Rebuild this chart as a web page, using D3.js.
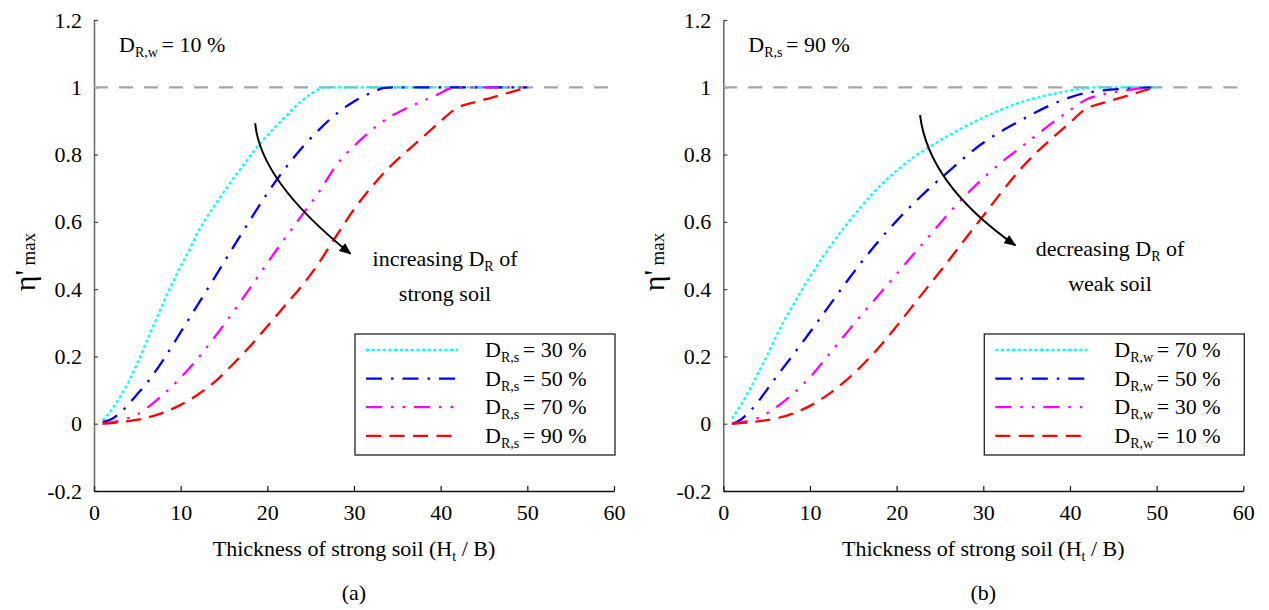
<!DOCTYPE html>
<html>
<head>
<meta charset="utf-8">
<script src="https://cdn.jsdelivr.net/npm/d3@7/dist/d3.min.js"></script>
<style>
  html, body { margin: 0; padding: 0; background: #fff; }
  svg { display: block; }
</style>
</head>
<body>
<svg id="chart" width="1269" height="610"></svg>
<script>
// ---------- data: normalised peak ratio vs. thickness of strong soil ----------
// axis ticks
const xTicks = [0, 10, 20, 30, 40, 50, 60];
const yTicks = [-0.2, 0, 0.2, 0.4, 0.6, 0.8, 1, 1.2];

// (a) weak soil D_R,w = 10 %, varying D_R of strong soil
const legendA = ["30 %", "50 %", "70 %", "90 %"];
const hA30 = [1, 2, 3, 4, 5, 6, 7, 8, 9, 10, 11, 12, 13, 14, 15, 16, 17, 18, 19, 20, 21, 22, 23, 24, 25, 26, 26.6, 30, 35, 40, 45, 50];
const eA30 = [0.01, 0.04, 0.08, 0.125, 0.18, 0.24, 0.3, 0.36, 0.415, 0.468, 0.516, 0.57, 0.613, 0.652, 0.69, 0.726, 0.76, 0.795, 0.828, 0.857, 0.884, 0.91, 0.937, 0.96, 0.98, 0.995, 1, 1, 1, 1, 1, 1];
const hA50 = [1, 2, 3, 4, 5, 6, 8, 10, 12, 14, 16, 18, 20, 22, 24, 26, 28, 30, 32, 33.5, 34.5, 40, 45, 50];
const eA50 = [0.005, 0.013, 0.032, 0.058, 0.088, 0.118, 0.19, 0.272, 0.355, 0.438, 0.522, 0.605, 0.685, 0.757, 0.82, 0.875, 0.922, 0.958, 0.984, 0.998, 1, 1, 1, 1];
const hA70 = [1, 2, 3, 4, 5, 6, 7, 8, 10, 12, 14, 16, 18, 20, 22, 24, 26, 28, 29, 30, 32, 34, 36, 38, 40, 41, 42, 45, 50];
const eA70 = [0, 0.004, 0.01, 0.017, 0.028, 0.045, 0.065, 0.087, 0.137, 0.195, 0.26, 0.33, 0.403, 0.478, 0.55, 0.62, 0.69, 0.77, 0.8, 0.825, 0.872, 0.91, 0.937, 0.96, 0.983, 0.996, 1, 1, 1];
const hA90 = [1, 2, 4, 6, 8, 10, 12, 14, 16, 18, 20, 22, 24, 26, 28, 30, 32, 34, 36, 38, 40, 42, 44, 46, 48, 50];
const eA90 = [0, 0.002, 0.008, 0.017, 0.033, 0.056, 0.087, 0.126, 0.176, 0.23, 0.29, 0.35, 0.41, 0.48, 0.56, 0.637, 0.703, 0.76, 0.808, 0.853, 0.9, 0.94, 0.956, 0.97, 0.985, 1];

// (b) strong soil D_R,s = 90 %, varying D_R of weak soil
const legendB = ["70 %", "50 %", "30 %", "10 %"];
const hB70 = [1, 2, 3, 4, 5, 6, 7, 8, 9, 10, 12, 14, 16, 18, 20, 22, 24, 26, 28, 30, 32, 34, 36, 38, 40, 42, 43, 45, 50];
const eB70 = [0.015, 0.055, 0.1, 0.15, 0.2, 0.255, 0.305, 0.35, 0.395, 0.437, 0.515, 0.585, 0.648, 0.705, 0.752, 0.793, 0.826, 0.857, 0.885, 0.91, 0.933, 0.953, 0.968, 0.98, 0.99, 0.998, 1, 1, 1];
const hB50 = [1, 2, 3, 4, 5, 6, 8, 10, 12, 14, 16, 18, 20, 22, 24, 26, 28, 30, 32, 34, 36, 38, 40, 42, 44, 46, 48, 49.3];
const eB50 = [0, 0.012, 0.035, 0.065, 0.1, 0.135, 0.203, 0.272, 0.343, 0.414, 0.482, 0.545, 0.603, 0.656, 0.705, 0.75, 0.795, 0.835, 0.868, 0.897, 0.925, 0.95, 0.97, 0.984, 0.991, 0.995, 0.998, 1];
const hB30 = [1, 2, 4, 6, 8, 10, 12, 14, 16, 18, 20, 22, 24, 26, 28, 30, 32, 34, 36, 38, 40, 42, 44, 46, 48, 49.5];
const eB30 = [0, 0.004, 0.017, 0.047, 0.088, 0.138, 0.2, 0.263, 0.325, 0.385, 0.445, 0.505, 0.565, 0.625, 0.68, 0.73, 0.775, 0.815, 0.855, 0.895, 0.932, 0.965, 0.98, 0.989, 0.996, 1];
const hB10 = [1, 2, 4, 6, 8, 10, 12, 14, 16, 18, 20, 22, 24, 26, 28, 30, 32, 34, 36, 38, 40, 41.5, 44, 46, 48, 50];
const eB10 = [0, 0.002, 0.007, 0.015, 0.03, 0.053, 0.085, 0.125, 0.173, 0.228, 0.29, 0.355, 0.42, 0.485, 0.552, 0.618, 0.685, 0.748, 0.803, 0.85, 0.895, 0.93, 0.955, 0.97, 0.986, 1];

// ---------- styles ----------
const FONT = "'Liberation Serif', 'Times New Roman', serif";
const lineStyles = [
  { color: "#00ffff", dash: "3,2.6" },
  { color: "#0000ff", dash: "16,9,2.5,9" },
  { color: "#ff00ff", dash: "16,9,2.5,9,2.5,9" },
  { color: "#ff0000", dash: "15,8.5" }
];

const panels = [
  {
    left: 94, tag: "(a)", subKey: "R,s", fixedSub: "R,w", fixedVal: "10 %",
    series: [[hA30, eA30], [hA50, eA50], [hA70, eA70], [hA90, eA90]], legend: legendA,
    arrow: { from: [18.6, 0.893], ctrl: [19.2, 0.72], to: [29.6, 0.505] },
    note: ["increasing ", "of", "strong soil"], noteX: 445, noteY: 266
  },
  {
    left: 723.3, tag: "(b)", subKey: "R,w", fixedSub: "R,s", fixedVal: "90 %",
    series: [[hB70, eB70], [hB50, eB50], [hB30, eB30], [hB10, eB10]], legend: legendB,
    arrow: { from: [22.7, 0.917], ctrl: [23.7, 0.71], to: [33.7, 0.53] },
    note: ["decreasing ", "of", "weak soil"], noteX: 1110, noteY: 256
  }
];

const svg = d3.select("#chart");
svg.append("rect").attr("width", 1269).attr("height", 610).attr("fill", "#fff");

const defs = svg.append("defs");
defs.append("marker")
  .attr("id", "arrowHead")
  .attr("viewBox", "0 0 12 10")
  .attr("refX", 11).attr("refY", 5)
  .attr("markerWidth", 12).attr("markerHeight", 10)
  .attr("markerUnits", "userSpaceOnUse")
  .attr("orient", "auto")
  .append("path").attr("d", "M0,0 L12,5 L0,10 Z").attr("fill", "#000");

const plotW = 520, plotTop = 20, plotBottom = 491;

// D with subscript label, e.g. D_R,s = 30 %
function dLabel(sel, x, y, sub, rest, size) {
  const t = sel.append("text")
    .attr("x", x).attr("y", y)
    .attr("font-family", FONT).attr("font-size", size).attr("fill", "#000");
  t.append("tspan").text("D");
  t.append("tspan").attr("font-size", size * 0.64).attr("dy", size * 0.23).text(sub + " ");
  t.append("tspan").attr("dy", -size * 0.23).text(rest);
  return t;
}

panels.forEach(p => {
  const g = svg.append("g");
  const x = d3.scaleLinear().domain([0, 60]).range([p.left, p.left + plotW]);
  const y = d3.scaleLinear().domain([-0.2, 1.2]).range([plotBottom, plotTop]);

  // y axis
  const yAxis = g.append("g")
    .attr("transform", `translate(${p.left},0)`)
    .call(d3.axisLeft(y).tickValues(yTicks).tickSizeInner(-4).tickSizeOuter(0).tickPadding(12)
      .tickFormat(v => String(Math.round(v * 10) / 10)));
  yAxis.select(".domain").attr("stroke", "#6e6e6e").attr("stroke-width", 1.6);
  yAxis.selectAll(".tick line").attr("stroke", "#444").attr("stroke-width", 1.2);
  yAxis.selectAll("text").attr("font-family", FONT).attr("font-size", 22).attr("fill", "#000");

  // x axis
  const xAxis = g.append("g")
    .attr("transform", `translate(0,${plotBottom})`)
    .call(d3.axisBottom(x).tickValues(xTicks).tickSizeInner(-5).tickSizeOuter(0).tickPadding(13));
  xAxis.select(".domain").attr("stroke", "#111").attr("stroke-width", 1.6);
  xAxis.selectAll(".tick line").attr("stroke", "#111").attr("stroke-width", 1.2);
  xAxis.selectAll("text").attr("font-family", FONT).attr("font-size", 22).attr("fill", "#000");

  // reference line at unity
  g.append("line")
    .attr("x1", x(0)).attr("x2", x(60)).attr("y1", y(1)).attr("y2", y(1))
    .attr("stroke", "#a6a6a6").attr("stroke-width", 2.2).attr("stroke-dasharray", "14,11");

  // curves
  const line = d3.line().x(d => x(d[0])).y(d => y(d[1])).curve(d3.curveMonotoneX);
  p.series.forEach((s, i) => {
    const pts = s[0].map((h, k) => [h, s[1][k]]);
    g.append("path")
      .attr("d", line(pts))
      .attr("fill", "none")
      .attr("stroke", lineStyles[i].color)
      .attr("stroke-width", 2.3)
      .attr("stroke-dasharray", lineStyles[i].dash);
  });

  // trend arrow
  const a = p.arrow;
  const path = d3.path();
  path.moveTo(x(a.from[0]), y(a.from[1]));
  path.quadraticCurveTo(x(a.ctrl[0]), y(a.ctrl[1]), x(a.to[0]), y(a.to[1]));
  g.append("path").attr("d", path.toString())
    .attr("fill", "none").attr("stroke", "#000").attr("stroke-width", 2)
    .attr("marker-end", "url(#arrowHead)");

  // trend note
  const n1 = g.append("text").attr("x", p.noteX).attr("y", p.noteY)
    .attr("text-anchor", "middle").attr("font-family", FONT).attr("font-size", 22);
  n1.append("tspan").text(p.note[0] + "D");
  n1.append("tspan").attr("font-size", 14).attr("dy", 5).text("R");
  n1.append("tspan").attr("dy", -5).text(" " + p.note[1]);
  g.append("text").attr("x", p.noteX).attr("y", p.noteY + 35)
    .attr("text-anchor", "middle").attr("font-family", FONT).attr("font-size", 22)
    .text(p.note[2]);

  // fixed-density note
  dLabel(g, p.left + 25, 52, p.fixedSub, "= " + p.fixedVal, 22);

  // legend
  const lx = p.left + 261, ly = 334, lw = 260, lh = 121;
  g.append("rect").attr("x", lx).attr("y", ly).attr("width", lw).attr("height", lh)
    .attr("fill", "#fff").attr("stroke", "#222").attr("stroke-width", 1.3);
  p.legend.forEach((lab, i) => {
    const ry = ly + 16 + i * 28.6;
    g.append("line")
      .attr("x1", lx + 11).attr("x2", lx + 103).attr("y1", ry).attr("y2", ry)
      .attr("stroke", lineStyles[i].color).attr("stroke-width", 2.3)
      .attr("stroke-dasharray", lineStyles[i].dash);
    dLabel(g, lx + 130, ry + 7, p.subKey, "= " + lab, 22);
  });

  // y axis title
  const yt = g.append("text")
    .attr("transform", `translate(${p.left - 59},262) rotate(-90)`)
    .attr("text-anchor", "middle").attr("font-family", FONT).attr("fill", "#000");
  yt.append("tspan").attr("font-size", 30).text("η'");
  yt.append("tspan").attr("font-size", 19).text(" max");

  // x axis title
  const xt = g.append("text")
    .attr("x", x(30)).attr("y", 556)
    .attr("text-anchor", "middle").attr("font-family", FONT).attr("font-size", 22);
  xt.append("tspan").text("Thickness of strong soil (H");
  xt.append("tspan").attr("font-size", 14).attr("dy", 5).text("t");
  xt.append("tspan").attr("dy", -5).text(" / B)");

  // panel tag
  g.append("text").attr("x", x(30)).attr("y", 600)
    .attr("text-anchor", "middle").attr("font-family", FONT).attr("font-size", 22)
    .text(p.tag);
});
</script>
</body>
</html>
